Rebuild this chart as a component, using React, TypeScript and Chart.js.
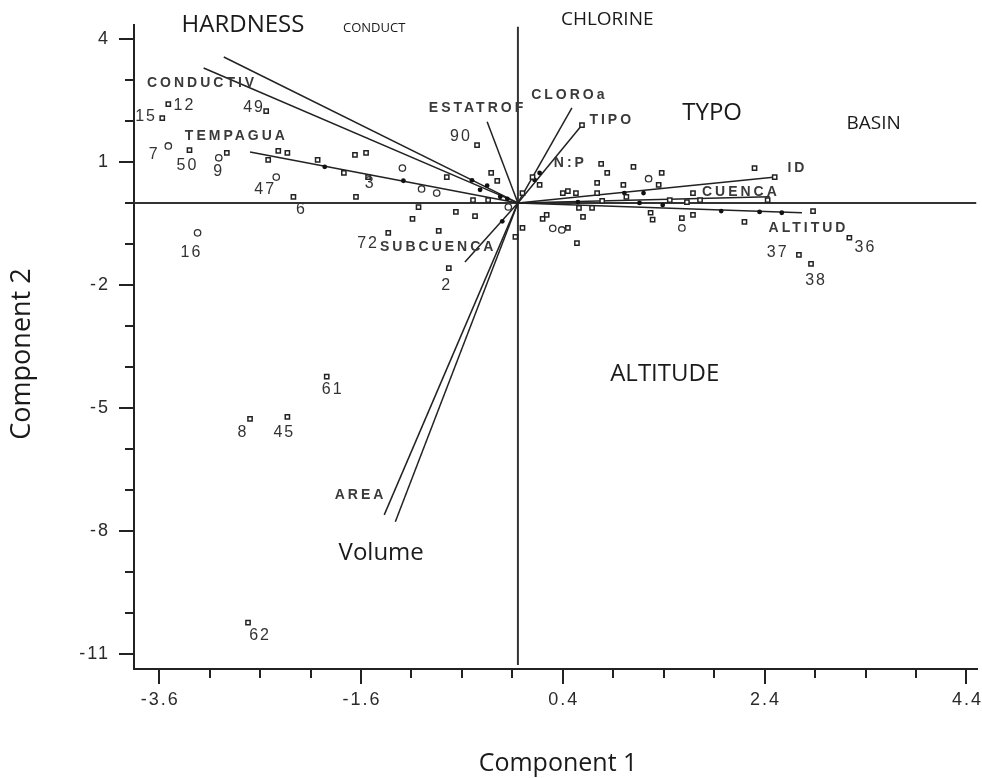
import React, { useEffect, useRef } from "react";
import { Chart, registerables } from "chart.js";

Chart.register(...registerables);

// ---- axes ----
const X_MIN = -3.85;
const X_MAX = 4.5;
const Y_MIN = -11.37;
const Y_MAX = 4.34;
const xMajorTicks = [-3.6, -1.6, 0.4, 2.4, 4.4];
const xMinorTicks = [-3.1, -2.6, -2.1, -1.1, -0.6, -0.1, 0.9, 1.4, 1.9, 2.9, 3.4, 3.9];
const yMajorTicks = [4, 1, -2, -5, -8, -11];
const yMinorTicks = [3, 2, 0, -1, -3, -4, -6, -7, -9, -10];
const originX = -0.045;
const originY = 0;

// ---- samples (component scores) ----
const squarePoints: [number, number][] = [
  [-3.51, 2.41], [-3.57, 2.07], [-2.54, 2.24], [-0.45, 1.41], [-3.3, 1.29], [-2.93, 1.22],
  [-2.52, 1.05], [-2.42, 1.27], [-2.33, 1.22], [-2.27, 0.15], [-2.03, 1.05], [-1.77, 0.73],
  [-1.66, 1.17], [-1.55, 1.22], [-1.53, 0.63], [-1.65, 0.15], [-0.75, 0.63], [-0.49, 0.07],
  [-0.34, 0.07], [-0.31, 0.73], [-0.25, 0.54], [-1.03, -0.1], [-1.09, -0.39], [-0.66, -0.22],
  [-0.47, -0.32], [-0.83, -0.68], [-1.33, -0.73], [-0.73, -1.59], [-1.94, -4.24], [-2.7, -5.27],
  [-2.33, -5.22], [-2.72, -10.24],
  [2.5, 0.63], [2.3, 0.85], [1.1, 0.88], [1.38, 0.73], [1.35, 0.44], [0.84, 0.73], [0.74, 0.49],
  [0.4, 0.24], [0.45, 0.29], [0.53, 0.24], [0.74, 0.24], [0.79, 0.05], [1.0, 0.44], [1.03, 0.15],
  [1.69, 0.24], [1.76, 0.07], [2.43, 0.07], [1.46, 0.07], [1.63, 0.02], [0.1, 0.63], [0.17, 0.44],
  [0.0, 0.24], [0.2, -0.39], [0.24, -0.29], [0.45, -0.61], [0.54, -0.98], [0.6, -0.34],
  [0.56, -0.12], [0.69, -0.12], [1.27, -0.24], [1.29, -0.41], [1.58, -0.37], [1.69, -0.29],
  [2.2, -0.46], [2.88, -0.2], [3.24, -0.85], [2.74, -1.27], [2.86, -1.49], [0.0, -0.61],
  [-0.07, -0.83], [0.59, 1.9], [0.78, 0.95],
];
const circlePoints: [number, number][] = [
  [-3.51, 1.39], [-3.01, 1.1], [-2.44, 0.63], [-1.19, 0.85], [-1.0, 0.34], [-0.85, 0.24],
  [-0.14, -0.1], [-3.22, -0.73], [1.25, 0.59], [1.58, -0.61], [0.39, -0.66], [0.3, -0.62],
];
const dotPoints: [number, number][] = [
  [-1.96, 0.88], [-1.18, 0.54], [-0.42, 0.32], [-0.22, 0.15], [-0.5, 0.55], [-0.35, 0.42],
  [-0.15, 0.1], [1.97, -0.2], [2.35, -0.22], [2.57, -0.24], [1.39, -0.05], [1.01, 0.24],
  [1.2, 0.24], [1.16, 0.0], [0.17, 0.73], [0.12, 0.56], [0.55, 0.02], [-0.2, -0.45],
];

// ---- variable loadings (vectors) ----
const vectorNames = ["HARDNESS", "CONDUCT", "TEMPAGUA", "ESTATROF", "CLOROa", "TIPO", "ID", "CUENCA", "ALTITUD", "SUBCUENCA", "AREA", "Volume"];
const vectorX = [-2.96, -3.16, -2.7, -0.35, 0.49, 0.59, 2.51, 2.45, 2.77, -0.57, -1.37, -1.26];
const vectorY = [3.56, 3.29, 1.24, 1.98, 2.32, 1.9, 0.63, 0.15, -0.24, -1.44, -7.61, -7.78];

// ---- labels ----
const varLabelText = ["CONDUCTIV", "TEMPAGUA", "ESTATROF", "CLOROa", "TIPO", "N:P", "ID", "CUENCA", "ALTITUD", "SUBCUENCA", "AREA"];
const varLabelX = [-3.19, -2.85, -0.46, 0.45, 0.87, 0.46, 2.71, 2.15, 2.82, -0.85, -1.62];
const varLabelY = [2.93, 1.63, 2.32, 2.63, 2.02, 0.98, 0.85, 0.27, -0.61, -1.07, -7.12];

const sampleLabelText = ["15", "12", "49", "90", "7", "50", "9", "47", "6", "3", "16", "72", "2", "37", "38", "36", "61", "8", "45", "62"];
const sampleLabelX = [-3.74, -3.36, -2.67, -0.62, -3.66, -3.33, -3.02, -2.56, -2.2, -1.52, -3.29, -1.54, -0.76, 2.52, 2.9, 3.39, -1.89, -2.78, -2.37, -2.61];
const sampleLabelY = [2.1, 2.37, 2.32, 1.61, 1.17, 0.9, 0.76, 0.32, -0.17, 0.46, -1.2, -1.0, -2.02, -1.22, -1.9, -1.1, -4.56, -5.61, -5.61, -10.56];

const noteText = ["HARDNESS", "CONDUCT", "CHLORINE", "TYPO", "BASIN", "ALTITUDE", "Volume"];
const noteX = [-2.77, -1.47, 0.84, 1.88, 3.48, 1.41, -1.4];
const noteY = [4.34, 4.27, 4.46, 2.2, 1.93, -4.17, -8.54];
const noteSize = [24, 13, 19, 24, 19, 24, 24];

const xTitle = "Component 1";
const yTitle = "Component 2";

const INK = "#222";

const overlayPlugin = {
  id: "overlay",
  afterDraw(chart: any) {
    const { ctx } = chart;
    const x = chart.scales.x;
    const y = chart.scales.y;
    ctx.save();
    // minor tick marks
    ctx.strokeStyle = INK;
    ctx.lineWidth = 2;
    ctx.beginPath();
    const bottom = y.getPixelForValue(Y_MIN);
    const left = x.getPixelForValue(X_MIN);
    xMinorTicks.forEach((v) => {
      const px = Math.round(x.getPixelForValue(v));
      ctx.moveTo(px, bottom);
      ctx.lineTo(px, bottom + 9);
    });
    yMinorTicks.forEach((v) => {
      const py = Math.round(y.getPixelForValue(v));
      ctx.moveTo(left, py);
      ctx.lineTo(left - 9, py);
    });
    ctx.stroke();

    // tick labels
    ctx.fillStyle = "#2a2a2a";
    ctx.font = '18px "Liberation Sans", Arial, sans-serif';
    (ctx as any).letterSpacing = "2px";
    ctx.textBaseline = "middle";
    ctx.textAlign = "center";
    xMajorTicks.forEach((v) => {
      ctx.fillText(String(v), x.getPixelForValue(v) + 1, bottom + 31);
    });
    ctx.textAlign = "right";
    yMajorTicks.forEach((v) => {
      ctx.fillText(String(v), left - 24, y.getPixelForValue(v));
    });

    ctx.textAlign = "center";
    // variable labels
    ctx.fillStyle = "#3a3a3a";
    ctx.font = 'bold 14px "Liberation Sans", Arial, sans-serif';
    (ctx as any).letterSpacing = "3px";
    varLabelText.forEach((t, i) => {
      ctx.fillText(t, x.getPixelForValue(varLabelX[i]) + 1.5, y.getPixelForValue(varLabelY[i]));
    });
    // sample labels
    ctx.fillStyle = "#333";
    ctx.font = '16px "Liberation Sans", Arial, sans-serif';
    (ctx as any).letterSpacing = "2px";
    sampleLabelText.forEach((t, i) => {
      ctx.fillText(t, x.getPixelForValue(sampleLabelX[i]) + 1, y.getPixelForValue(sampleLabelY[i]));
    });
    (ctx as any).letterSpacing = "0px";
    // annotations
    ctx.fillStyle = "#1a1a1a";
    noteText.forEach((t, i) => {
      ctx.font = `${noteSize[i]}px "Open Sans", sans-serif`;
      ctx.fillText(t, x.getPixelForValue(noteX[i]), y.getPixelForValue(noteY[i]));
    });
    // axis titles
    ctx.font = '25px "Open Sans", sans-serif';
    ctx.fillText(xTitle, 558, 764);
    ctx.save();
    ctx.translate(22, 354);
    ctx.rotate(-Math.PI / 2);
    ctx.font = '27px "Open Sans", sans-serif';
    ctx.fillText(yTitle, 0, 0);
    ctx.restore();
    ctx.restore();
  },
};

const toXY = (arr: [number, number][]) => arr.map(([a, b]) => ({ x: a, y: b }));

export default function App() {
  const ref = useRef<HTMLCanvasElement>(null);
  useEffect(() => {
    document.body.style.margin = "0";
    const canvas = ref.current!;
    const vectorSets = vectorNames.map((name, i) => ({
      label: name,
      data: [{ x: originX, y: originY }, { x: vectorX[i], y: vectorY[i] }],
      showLine: true,
      borderColor: "#222",
      borderWidth: 1.5,
      pointRadius: 0,
      order: 5,
    }));
    const chart = new Chart(canvas, {
      type: "scatter",
      data: {
        datasets: [
          {
            label: "h0",
            data: [{ x: X_MIN, y: originY }, { x: X_MAX, y: originY }],
            showLine: true,
            borderColor: "#333",
            borderWidth: 2,
            pointRadius: 0,
            order: 6,
          },
          {
            label: "v0",
            data: [{ x: originX, y: 4.3 }, { x: originX, y: -11.27 }],
            showLine: true,
            borderColor: "#333",
            borderWidth: 2,
            pointRadius: 0,
            order: 6,
          },
          ...vectorSets,
          {
            label: "dots",
            data: toXY(dotPoints),
            pointStyle: "circle",
            pointRadius: 2.4,
            backgroundColor: "#111",
            borderColor: "#111",
            borderWidth: 0,
            order: 3,
          },
          {
            label: "squares",
            data: toXY(squarePoints),
            pointStyle: "rect",
            pointRadius: 3,
            backgroundColor: "#fff",
            borderColor: "#222",
            borderWidth: 1.5,
            order: 2,
          },
          {
            label: "circles",
            data: toXY(circlePoints),
            pointStyle: "circle",
            pointRadius: 3.2,
            backgroundColor: "#fff",
            borderColor: "#333",
            borderWidth: 1.3,
            order: 1,
          },
        ],
      },
      options: {
        responsive: false,
        animation: false,
        devicePixelRatio: 1,
        layout: { padding: { left: 0, right: 5, top: 25, bottom: 0 } },
        plugins: { legend: { display: false }, tooltip: { enabled: false } },
        scales: {
          x: {
            type: "linear",
            min: X_MIN,
            max: X_MAX,
            afterBuildTicks: (s: any) => {
              s.ticks = xMajorTicks.map((v) => ({ value: v }));
            },
            afterFit: (s: any) => {
              s.height = 109;
            },
            grid: { display: true, drawOnChartArea: false, drawTicks: true, tickLength: 15, color: INK, lineWidth: 2 },
            border: { display: true, color: INK, width: 2 },
            ticks: { display: false, autoSkip: false },
          },
          y: {
            type: "linear",
            min: Y_MIN,
            max: Y_MAX,
            afterBuildTicks: (s: any) => {
              s.ticks = yMajorTicks.map((v) => ({ value: v }));
            },
            afterFit: (s: any) => {
              s.width = 134;
            },
            grid: { display: true, drawOnChartArea: false, drawTicks: true, tickLength: 15, color: INK, lineWidth: 2 },
            border: { display: true, color: INK, width: 2 },
            ticks: { display: false, autoSkip: false },
          },
        },
      },
      plugins: [overlayPlugin],
    } as any);
    return () => chart.destroy();
  }, []);
  return <canvas ref={ref} width={982} height={778} style={{ display: "block", width: 982, height: 778 }} />;
}
